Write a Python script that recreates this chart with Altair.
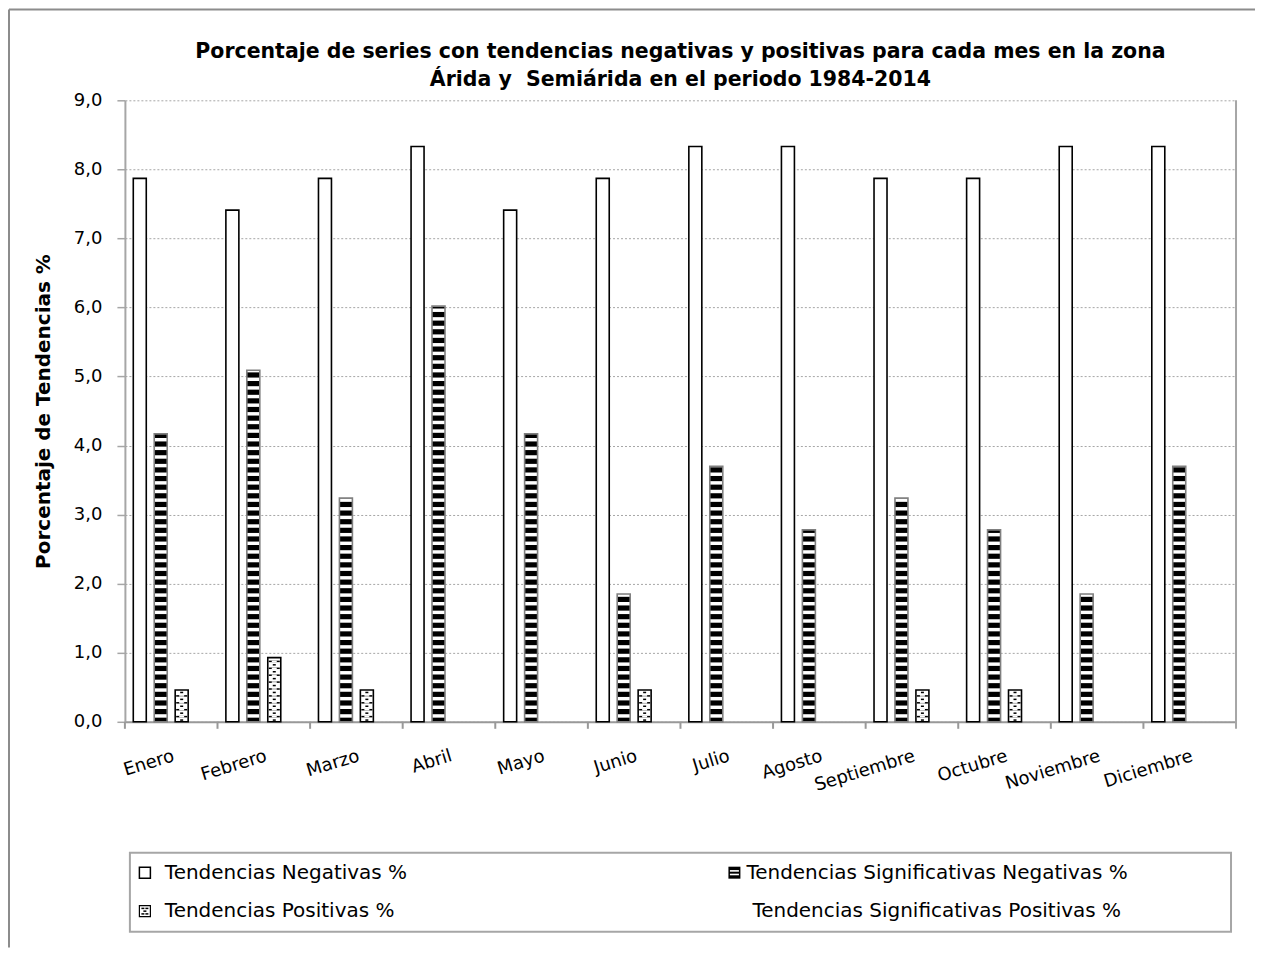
import altair as alt
import pandas as pd

months = ["Enero", "Febrero", "Marzo", "Abril", "Mayo", "Junio", "Julio",
          "Agosto", "Septiembre", "Octubre", "Noviembre", "Diciembre"]
series = ["Tendencias Negativas %", "Tendencias Significativas Negativas %",
          "Tendencias Positivas %", "Tendencias Significativas Positivas %"]
neg = [7.87, 7.41, 7.87, 8.33, 7.41, 7.87, 8.33, 8.33, 7.87, 7.87, 8.33, 8.33]
sig_neg = [4.17, 5.09, 3.24, 6.02, 4.17, 1.85, 3.70, 2.78, 3.24, 2.78, 1.85, 3.70]
pos = [0.46, 0.93, 0.46, 0, 0, 0.46, 0, 0, 0.46, 0.46, 0, 0]
sig_pos = [0, 0, 0, 0, 0, 0, 0, 0, 0, 0, 0, 0]
y_ticks = [0, 1, 2, 3, 4, 5, 6, 7, 8, 9]
title_lines = ["Porcentaje de series con tendencias negativas y positivas para cada mes en la zona",
               "Árida y\u00a0 Semiárida en el periodo 1984-2014"]
y_title = "Porcentaje de Tendencias %"

FONT = "DejaVu Sans"
W, H = 1112, 622

rows = []
for i, m in enumerate(months):
    for s, vals in zip(series, [neg, sig_neg, pos, sig_pos]):
        rows.append({"mes": m, "serie": s, "valor": vals[i]})
df = pd.DataFrame(rows)
bars_df = df[df.valor > 0]
months_df = pd.DataFrame({"mes": months})

# horizontal stripe pattern (white gaps over black bar)
PERIOD, GAP = 0.125, 0.05
stripes = []
for m, v in zip(months, sig_neg):
    k = 0
    while True:
        y0 = k * PERIOD + 0.06
        if y0 >= v - 0.01:
            break
        stripes.append({"mes": m, "serie": series[1], "y0": y0, "y1": min(y0 + GAP, v)})
        k += 1
stripes_df = pd.DataFrame(stripes)

# dotted pattern rows
DROW, DH = 0.05, 0.022
dots_a, dots_b = [], []
for m, v in zip(months, pos):
    k = 0
    while (k + 1) * DROW <= v + 1e-9:
        y0 = k * DROW + 0.014
        rec = {"mes": m, "serie": series[2], "y0": y0, "y1": y0 + DH}
        (dots_a if k % 2 == 0 else dots_b).append(rec)
        k += 1
dots_a_df = pd.DataFrame(dots_a)
dots_b_df = pd.DataFrame(dots_b)

x_scale = alt.Scale(domain=months, paddingInner=0, paddingOuter=0)
xo_scale = alt.Scale(domain=series, paddingInner=0.38, paddingOuter=0.4)
y_scale = alt.Scale(domain=[0, 9], nice=False)

x_axis = alt.Axis(title=None, labelAngle=-17, labelAlign="right", labelBaseline="top",
                  labelPadding=25, labelFontSize=18, labelFont=FONT, labelColor="black",
                  ticks=False, tickSize=0, domainColor="#999999", domainWidth=2, grid=False)
y_axis = alt.Axis(values=y_ticks, format=".1f",
                  tickSize=8, labelPadding=15, labelFontSize=18, labelFont=FONT,
                  labelColor="black", grid=True, gridDash=[2, 2], gridColor="#a6a6a6",
                  gridWidth=1, domainColor="#a6a6a6", domainWidth=2, tickColor="#a6a6a6",
                  tickWidth=1.5, title=y_title, titleFont=FONT, titleFontSize=20,
                  titleFontWeight="bold", titleColor="black", titleX=-81, titleY=H / 2,
                  titleAngle=270, titleAlign="center", titleBaseline="middle")

X = alt.X("mes:N", scale=x_scale, axis=x_axis)
XO = alt.XOffset("serie:N", scale=xo_scale)


def Y(field):
    return alt.Y(field, scale=y_scale, axis=y_axis)


base = alt.Chart(bars_df).mark_bar(strokeWidth=0).encode(
    x=X, xOffset=XO, y=Y("valor:Q"),
    fill=alt.Fill("serie:N", scale=alt.Scale(domain=series, range=["white", "black", "white", "white"]), legend=None),
)

stripe_layer = alt.Chart(stripes_df).mark_bar(color="white", strokeWidth=0).encode(
    x=X, xOffset=XO, y=Y("y0:Q"), y2="y1:Q")

dot_a_layer = alt.Chart(dots_a_df).mark_bar(color="black", width=3, strokeWidth=0).encode(
    x=X, xOffset=XO, y=Y("y0:Q"), y2="y1:Q")
dot_b_layer = alt.Chart(dots_b_df).mark_bar(color="black", width=11, strokeWidth=0).encode(
    x=X, xOffset=XO, y=Y("y0:Q"), y2="y1:Q")
dot_b_gap = alt.Chart(dots_b_df).mark_bar(color="white", width=5, strokeWidth=0).encode(
    x=X, xOffset=XO, y=Y("y0:Q"), y2="y1:Q")

outline = alt.Chart(bars_df).mark_bar(fillOpacity=0, strokeWidth=1.6).encode(
    x=X, xOffset=XO, y=Y("valor:Q"),
    stroke=alt.Stroke("serie:N", scale=alt.Scale(domain=series, range=["black", "#7f7f7f", "black", "black"]), legend=None),
)

# category boundary ticks on the x axis
x_ticks = alt.Chart(months_df).mark_rule(color="#999999", strokeWidth=2).encode(
    x=alt.X("mes:N", scale=x_scale, axis=x_axis, bandPosition=0),
    y=alt.value(H), y2=alt.value(H + 7))

one = pd.DataFrame({"k": [0]})


def rect(x0, x1, y0, y1, **kw):
    return alt.Chart(one).mark_rect(**kw).encode(
        x=alt.value(x0), x2=alt.value(x1), y=alt.value(y0), y2=alt.value(y1))


def label(txt, x, y):
    return alt.Chart(one).mark_text(text=txt, align="left", baseline="middle", font=FONT,
                                    fontSize=20, color="black").encode(
        x=alt.value(x), y=alt.value(y))


# legend (drawn manually, 2 columns)
R1, R2 = 773, 811.5
legend_parts = [
    rect(5, 1107, 753, 832, fillOpacity=0, stroke="#a6a6a6", strokeWidth=2),
    rect(14.5, 25.5, R1 - 5.5, R1 + 5.5, fill="white", stroke="black", strokeWidth=1.5),
    label(series[0], 40, R1),
    rect(604, 616, R1 - 6, R1 + 6, fill="black"),
    rect(605.5, 614.5, R1 - 2.6, R1 - 1.0, fill="white"),
    rect(605.5, 614.5, R1 + 1.0, R1 + 2.6, fill="white"),
    label(series[1], 622, R1),
    rect(14.5, 25.5, R2 - 5.5, R2 + 5.5, fill="white", stroke="black", strokeWidth=1.2),
    rect(16.5, 19.5, R2 - 3.5, R2 - 2.0, fill="black"),
    rect(20.5, 23.5, R2 - 3.5, R2 - 2.0, fill="black"),
    rect(18.5, 21.5, R2 - 0.75, R2 + 0.75, fill="black"),
    rect(16.5, 19.5, R2 + 2.0, R2 + 3.5, fill="black"),
    rect(20.5, 23.5, R2 + 2.0, R2 + 3.5, fill="black"),
    label(series[2], 40, R2),
    label(series[3], 628, R2),
]

right_border = alt.Chart(one).mark_rule(color="#a6a6a6", strokeWidth=2).encode(
    x=alt.value(W), y=alt.value(0), y2=alt.value(H + 7))
frame_top = alt.Chart(one).mark_rule(color="#8c8c8c", strokeWidth=2).encode(
    x=alt.value(-116), x2=alt.value(W + 19), y=alt.value(-91))
frame_left = alt.Chart(one).mark_rule(color="#8c8c8c", strokeWidth=2).encode(
    x=alt.value(-116), y=alt.value(-91), y2=alt.value(H + 226))

chart = alt.layer(
    base, stripe_layer, dot_b_layer, dot_b_gap, dot_a_layer, outline, x_ticks,
    *legend_parts, right_border, frame_top, frame_left
).properties(
    width=W, height=H,
    title=alt.Title(text=title_lines, font=FONT, fontSize=20.5, fontWeight="bold",
                    color="black", anchor="middle", frame="group", offset=-82, lineHeight=28),
    padding=0,
).configure(
    locale=alt.Locale(number=alt.NumberLocale(decimal=",", thousands=".", grouping=[3],
                                              currency=["", "\u00a0€"])),
    view=alt.ViewConfig(strokeWidth=0),
)

chart.save("out.html", embed_options={"renderer": "svg", "actions": False})
